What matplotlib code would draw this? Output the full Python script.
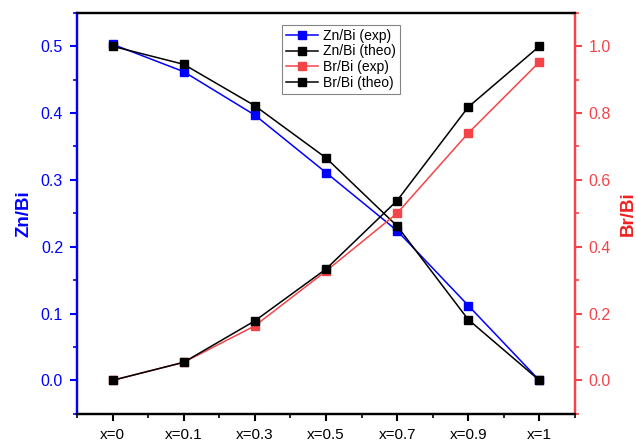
import numpy as np
import matplotlib
matplotlib.use('Agg')
import matplotlib.pyplot as plt
from matplotlib.ticker import MultipleLocator, FixedLocator

plt.rcParams['font.family'] = ['Liberation Sans', 'DejaVu Sans']

categories = ['x=0', 'x=0.1', 'x=0.3', 'x=0.5', 'x=0.7', 'x=0.9', 'x=1']
zn_exp = [0.503, 0.462, 0.397, 0.311, 0.224, 0.112, 0.0]
zn_theo = [0.500, 0.473, 0.411, 0.333, 0.231, 0.091, 0.0]
br_exp = [0.0, 0.054, 0.163, 0.327, 0.500, 0.740, 0.953]
br_theo = [0.0, 0.054, 0.178, 0.333, 0.538, 0.818, 1.0]

blue = '#0000ff'
red = '#f54448'

fig = plt.figure(figsize=(6.36, 4.43), dpi=100)
ax1 = fig.add_axes([0.121, 0.066, 0.783, 0.905])
ax2 = ax1.twinx()

pos = np.arange(len(categories))
mk = dict(marker='s', markersize=5.5, linewidth=1.1)
l1, = ax1.plot(pos, zn_exp, color=blue, markerfacecolor=blue, markeredgecolor=blue, label='Zn/Bi (exp)', **mk)
l2, = ax1.plot(pos, zn_theo, color='black', label='Zn/Bi (theo)', **mk)
l3, = ax2.plot(pos, br_exp, color=red, markerfacecolor=red, markeredgecolor=red, label='Br/Bi (exp)', **mk)
l4, = ax2.plot(pos, br_theo, color='black', label='Br/Bi (theo)', **mk)

ax1.set_xlim(-0.5, 6.5)
ax1.set_ylim(-0.05, 0.55)
ax2.set_ylim(-0.1, 1.1)

ax1.set_xticks(pos)
ax1.set_xticklabels(categories)
ax1.xaxis.set_minor_locator(FixedLocator(np.arange(-0.5, 7, 1.0)))
ax1.yaxis.set_major_locator(MultipleLocator(0.1))
ax1.yaxis.set_minor_locator(MultipleLocator(0.05))
ax2.yaxis.set_major_locator(MultipleLocator(0.2))
ax2.yaxis.set_minor_locator(MultipleLocator(0.1))

ax1.tick_params(axis='x', which='major', direction='out', length=5, width=1.5, labelsize=11, pad=5)
ax1.tick_params(axis='x', which='minor', direction='out', length=3, width=1.2)
ax1.tick_params(axis='y', which='major', direction='out', length=5, width=1.5, colors=blue, labelsize=11.5, pad=5)
ax1.tick_params(axis='y', which='minor', direction='out', length=3, width=1.2, colors=blue)
ax2.tick_params(axis='y', which='major', direction='out', length=5, width=1.5, colors=red, labelsize=11.5, pad=5)
ax2.tick_params(axis='y', which='minor', direction='out', length=3, width=1.2, colors=red)

for ax in (ax1, ax2):
    for s in ax.spines.values():
        s.set_linewidth(1.6)
ax2.spines['left'].set_color(blue)
ax2.spines['right'].set_color(red)
ax1.spines['left'].set_color(blue)
ax1.spines['right'].set_color(red)

ax1.set_ylabel('Zn/Bi', color=blue, fontsize=13.5, fontweight='bold', labelpad=6)
ax2.set_ylabel('Br/Bi', color='#f02020', fontsize=13.5, fontweight='bold', labelpad=6)

leg = ax2.legend(handles=[l1, l2, l3, l4], loc='upper center', bbox_to_anchor=(0.53, 0.988),
                 fontsize=10, frameon=True, fancybox=False, edgecolor='#666666',
                 handlelength=2.3, handletextpad=0.3, borderpad=0.3, labelspacing=0.12)
leg.get_frame().set_linewidth(0.8)

fig.savefig('out.png', dpi=100)
